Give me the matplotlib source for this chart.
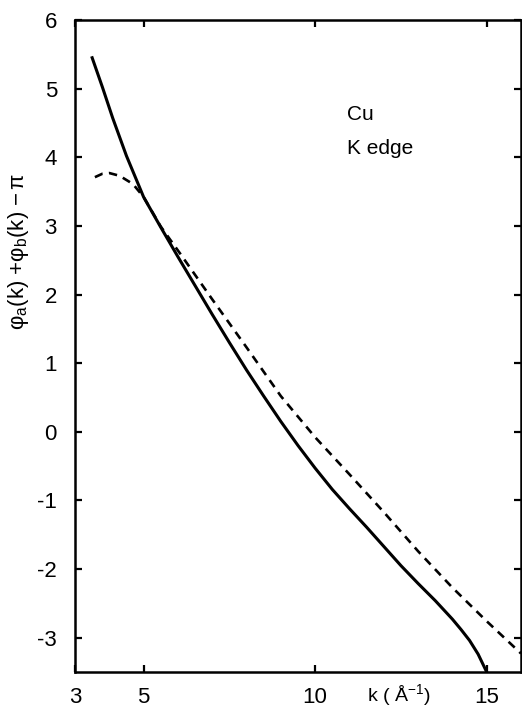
import numpy as np
import matplotlib
matplotlib.use("Agg")
import matplotlib.pyplot as plt
import matplotlib.transforms as mtransforms

plt.rcParams["font.family"] = ["Liberation Sans", "DejaVu Sans"]
plt.rcParams["mathtext.fontset"] = "custom"
plt.rcParams["mathtext.rm"] = "Liberation Sans"
plt.rcParams["mathtext.it"] = "Liberation Sans"
plt.rcParams["axes.unicode_minus"] = False

# solid curve: phase from theory
k_solid = [3.5, 3.8, 4.1, 4.5, 5.0, 5.5, 6.0, 6.5, 7.0, 7.5, 8.0, 8.5, 9.0,
           9.5, 10.0, 10.5, 11.0, 11.5, 12.0, 12.5, 13.0, 13.5, 14.0, 14.25,
           14.5, 14.75, 15.0]
phi_solid = [5.45, 5.02, 4.57, 4.02, 3.42, 2.98, 2.55, 2.13, 1.71, 1.30,
             0.90, 0.52, 0.15, -0.20, -0.53, -0.84, -1.12, -1.39, -1.67,
             -1.95, -2.21, -2.46, -2.73, -2.88, -3.04, -3.24, -3.5]

# dashed curve
k_dash = [3.58, 3.8, 4.0, 4.3, 4.69, 5.0, 5.5, 6.06, 7.0, 8.0, 9.0, 10.0,
          11.0, 12.0, 13.0, 14.0, 15.0, 16.0]
phi_dash = [3.71, 3.76, 3.77, 3.73, 3.61, 3.42, 2.99, 2.60, 1.93, 1.23,
            0.52, -0.08, -0.62, -1.17, -1.74, -2.27, -2.76, -3.23]

xticks = [3, 5, 10, 15]
yticks = [-3, -2, -1, 0, 1, 2, 3, 4, 5, 6]

fig = plt.figure(figsize=(5.22, 7.08), dpi=100)
ax = fig.add_axes([75 / 522, 36 / 708, 446 / 522, 652 / 708])

ax.plot(k_solid, phi_solid, color="black", lw=2.2, solid_joinstyle="round")
ax.plot(k_dash, phi_dash, color="black", lw=1.9, dashes=(3.2, 2.4))

ax.set_xlim(3, 16)
ax.set_ylim(-3.5, 6)
ax.set_xticks(xticks)
ax.set_yticks(yticks)
ax.tick_params(direction="in", length=5, width=1.6, top=True, right=True,
               labelsize=16, pad=13)
ax.tick_params(axis="x", pad=11)
for s in ax.spines.values():
    s.set_linewidth(1.8)

ax.set_ylabel(r"$\varphi_a\mathrm{(k)}\ {+}\varphi_b\mathrm{(k)}\ \mathrm{-}\,\pi$",
              fontsize=16)
ax.yaxis.set_label_coords(-0.098, 0.645)

trans = mtransforms.blended_transform_factory(ax.transData, ax.transAxes)
ax.text(12.45, -0.036, r"k ( Å$^{-1}$)", transform=trans, fontsize=14,
        ha="center", va="center")

ax.text(347 / 522, 1 - 114 / 708, "Cu", transform=fig.transFigure,
        fontsize=15, va="center")
ax.text(347 / 522, 1 - 148 / 708, "K edge", transform=fig.transFigure,
        fontsize=15, va="center")

fig.savefig("out.png", dpi=100)
